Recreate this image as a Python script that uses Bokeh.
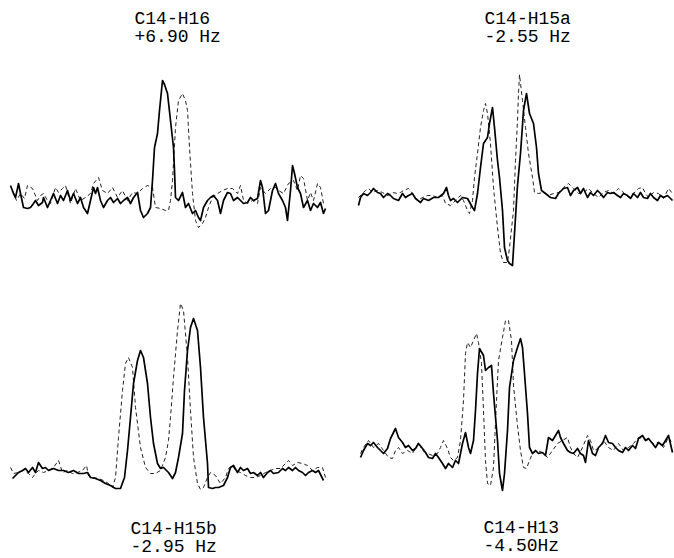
from bokeh.plotting import figure
from bokeh.layouts import column, row
from bokeh.models import Range1d
from bokeh.core.properties import value
from bokeh.embed import file_html
from bokeh.resources import INLINE

# ---- data: (frequency position, intensity) ----
tl_solid = [(2,12),(5,4),(7,0),(9,9),(10,14),(12,4),(15,-10),(19,-11),(22,-10),(25,-6),(27,-3),(30,-8),
            (34,-5),(35,0),(39,-10),(42,-3),(45,4),(49,-6),(52,2),(55,-3),(59,7),(62,-3),(65,4),(69,-6),
            (72,0),(75,-10),(79,-16),(82,-3),(85,10),(87,4),(89,10),(92,-3),(95,-10),(99,-3),(102,0),
            (105,-5),(109,-1),(112,-6),(115,-3),(119,0),(122,-6),(125,0),(129,5),(132,-13),(135,-20),
            (139,-16),(142,-10),(144,17),(146,50),(149,64),(151,87),(154,117),(156,113),(159,104),
            (162,77),(165,50),(166,27),(167,0),(170,-3),(174,5),(177,-10),(180,-6),(184,-16),(187,-13),
            (190,-20),(192,-23),(195,-10),(199,-3),(202,0),(205,2),(209,-3),(212,-16),(215,-3),(219,5),
            (222,4),(225,-3),(229,0),(232,-3),(235,-6),(239,-5),(242,0),(245,-3),(249,-1),(252,17),
            (254,10),(257,-16),(260,-13),(264,7),(267,14),(270,4),(274,-3),(277,-10),(279,-23),(282,7),
            (284,32),(286,24),(289,10),(292,4),(295,-10),(299,-3),(302,-13),(305,-6),(309,-10),
            (312,-5),(315,-16),(317,-11)]
tl_dashed = [(4,7),(8,-3),(12,4),(16,-1),(19,12),(24,9),(29,-3),(32,2),(35,4),(39,-3),(42,-6),(47,10),
             (50,5),(54,9),(57,12),(62,-6),(67,9),(72,-3),(77,0),(82,4),(85,14),(90,20),(94,7),(99,4),
             (104,10),(109,0),(114,7),(119,-3),(124,5),(129,4),(134,9),(139,12),(144,10),(147,-10),
             (152,-11),(157,-13),(160,-13),(162,-3),(164,17),(167,70),(170,97),(174,104),(177,97),
             (179,87),(181,50),(184,4),(187,-23),(190,-30),(194,-26),(197,-20),(200,-10),(204,0),
             (209,4),(214,7),(219,9),(224,9),(229,4),(232,12),(235,-3),(239,-6),(244,-3),(249,-6),
             (252,10),(257,4),(262,9),(267,10),(270,7),(275,4),(280,14),(285,17),(289,7),(292,22),
             (295,19),(299,-3),(302,5),(305,-3),(309,14),(312,10),(315,-6)]

tr_solid = [(21,-7),(23,1),(26,5),(30,3),(33,6),(36,10),(40,6),(43,5),(46,1),(50,5),(53,3),(56,0),
            (61,-2),(65,5),(68,1),(71,3),(75,5),(78,0),(83,-4),(86,0),(91,-2),(96,1),(101,1),(106,5),
            (109,11),(111,3),(113,-2),(116,0),(120,-4),(125,1),(130,0),(135,-9),(137,-12),(140,5),
            (143,31),(146,55),(150,61),(152,75),(155,91),(157,71),(160,38),(162,21),(165,-12),
            (167,-49),(170,-62),(172,-65),(175,-67),(177,-35),(180,13),(183,45),(186,88),(189,105),
            (192,85),(196,75),(199,51),(201,25),(204,8),(208,5),(213,1),(218,0),(221,5),(226,10),
            (230,11),(233,3),(236,8),(240,11),(243,5),(246,10),(250,1),(253,6),(256,3),(260,8),
            (263,5),(266,1),(270,6),(273,5),(276,6),(280,3),(283,1),(286,5),(290,3),(293,0),(296,5),
            (300,1),(303,6),(306,1),(310,0),(313,5),(316,1),(320,-2),(323,3),(326,1),(330,3),(335,-2)]
tr_dashed = [(21,1),(25,5),(28,8),(31,10),(35,6),(40,8),(45,6),(50,3),(55,6),(60,5),(63,6),(66,8),
             (71,10),(75,5),(80,-2),(85,1),(90,3),(95,3),(100,1),(105,3),(108,-5),(113,-7),(118,-2),
             (123,3),(126,-2),(130,-12),(132,-15),(135,-2),(137,21),(140,45),(143,71),(146,88),
             (148,95),(150,85),(153,55),(156,11),(160,-29),(163,-55),(166,-64),(170,-64),(172,-49),
             (176,-12),(178,38),(180,78),(181,105),(182,124),(185,98),(188,71),(191,45),(195,21),
             (197,6),(201,5),(206,6),(211,3),(216,5),(221,6),(226,11),(231,15),(236,10),(241,5),
             (246,6),(251,10),(256,5),(261,1),(266,6),(271,8),(276,5),(281,10),(286,6),(291,1),
             (296,5),(301,10),(305,11),(308,5),(311,1),(316,6),(321,5),(326,0),(331,10),(335,5)]

bl_solid = [(4,-8),(7,-5),(10,-2),(14,0),(17,2),(20,-2),(24,3),(27,-2),(30,8),(34,2),(37,3),(40,0),
            (45,2),(50,0),(55,0),(60,-2),(65,0),(70,-3),(75,-3),(79,-2),(82,-7),(87,-8),(92,-10),
            (97,-13),(102,-15),(107,-18),(112,-18),(116,-7),(119,20),(122,53),(125,87),(129,110),
            (132,120),(135,113),(139,87),(142,53),(145,27),(149,7),(152,2),(155,3),(160,-2),(164,-8),
            (167,-2),(170,13),(174,37),(176,80),(179,120),(182,143),(185,152),(189,140),(192,103),
            (195,53),(199,7),(200,-17),(204,-18),(207,-17),(210,-17),(215,-15),(219,-7),(222,3),
            (225,5),(229,-2),(232,3),(235,0),(239,2),(242,-3),(245,-2),(249,-5),(252,-2),(255,-7),
            (259,-2),(262,0),(265,-3),(270,-2),(274,2),(277,0),(280,3),(284,0),(287,3),(290,0),
            (294,-2),(297,-5),(300,-2),(304,0),(307,-2),(310,0),(315,-10)]
bl_dashed = [(2,3),(5,-3),(10,-2),(15,0),(20,-3),(24,-7),(27,-3),(30,0),(35,-2),(40,0),(45,3),(50,10),
             (54,-2),(59,0),(64,-3),(69,-2),(74,0),(78,5),(80,-5),(85,-7),(90,-8),(95,-10),(100,-13),
             (104,-17),(107,-7),(110,33),(114,80),(117,107),(120,113),(124,103),(127,63),(132,23),
             (137,3),(142,-3),(147,-3),(152,0),(157,13),(160,30),(162,53),(165,93),(169,140),
             (172,167),(175,160),(179,113),(182,60),(185,13),(189,-13),(192,-19),(195,-17),(199,-7),
             (202,-2),(207,-5),(212,-13),(217,-7),(220,2),(224,5),(227,0),(232,-2),(237,-5),(242,-7),
             (247,-7),(252,-5),(257,-2),(262,0),(267,2),(272,2),(277,7),(280,10),(284,5),(289,8),
             (294,7),(299,5),(304,0),(309,3),(314,3),(317,-7)]

br_solid = [(23,-7),(26,0),(30,7),(33,5),(36,8),(40,3),(43,0),(46,-3),(50,2),(53,12),(58,22),(61,13),
            (65,8),(68,3),(71,5),(75,0),(78,2),(81,7),(85,2),(88,-2),(91,-7),(95,-8),(98,-3),(101,-7),
            (105,-13),(108,-18),(111,-13),(115,-17),(118,-10),(121,-13),(125,7),(128,18),(131,3),
            (133,-3),(136,10),(138,40),(140,77),(142,102),(146,95),(148,80),(151,83),(154,85),
            (156,57),(160,10),(162,-23),(165,-40),(167,-23),(170,20),(172,63),(176,90),(180,103),
            (183,112),(185,103),(187,77),(190,37),(192,3),(195,-3),(198,0),(201,-3),(205,-2),(208,-5),
            (211,13),(215,10),(218,15),(221,20),(223,13),(226,7),(230,0),(233,-2),(236,-3),(240,2),
            (243,-3),(246,-5),(248,-12),(251,10),(255,-3),(258,-5),(261,3),(265,7),(268,15),(271,8),
            (275,7),(278,3),(281,0),(285,-2),(288,3),(291,0),(295,5),(298,2),(301,12),(305,15),
            (308,10),(311,12),(315,7),(318,3),(321,8),(325,5),(328,10),(331,15),(335,-2)]
br_dashed = [(23,-3),(26,3),(31,10),(36,3),(41,7),(46,0),(51,-7),(55,-8),(58,0),(61,3),(65,-3),(70,0),
             (75,-3),(78,2),(81,8),(85,0),(90,-3),(95,-5),(100,-3),(103,3),(106,10),(110,2),(113,-7),
             (116,-10),(120,-7),(123,10),(126,50),(128,97),(130,108),(133,103),(136,110),(139,117),
             (141,108),(144,87),(146,40),(148,-10),(150,-33),(153,-35),(156,-17),(159,50),(161,90),
             (165,113),(168,130),(171,130),(174,110),(176,65),(180,25),(183,0),(186,-17),(189,-18),
             (192,-10),(195,-3),(200,0),(205,-2),(210,-7),(215,0),(220,7),(225,10),(230,13),(233,3),
             (236,-3),(240,-7),(245,3),(250,15),(253,10),(256,0),(261,2),(266,10),(271,3),(276,0),
             (281,7),(286,0),(291,3),(296,7),(301,13),(306,12),(311,10),(316,7),(321,8),(326,3),
             (331,13),(335,7)]

labels_tl = ["C14-H16", "+6.90 Hz"]
labels_tr = ["C14-H15a", "-2.55 Hz"]
labels_bl = ["C14-H15b", "-2.95 Hz"]
labels_br = ["C14-H13", "-4.50Hz"]

W, H = 337, 279
FONT = value("Liberation Mono")


def panel(solid, dashed, xr, yr, labels, lab_x, lab_y):
    p = figure(width=W, height=H, x_range=Range1d(*xr), y_range=Range1d(*yr),
               output_backend="svg", toolbar_location=None,
               x_axis_location=None, y_axis_location=None, min_border=0)
    p.outline_line_color = None
    p.grid.visible = False
    p.background_fill_color = "white"
    p.border_fill_color = "white"
    p.line([a for a, b in dashed], [b for a, b in dashed], line_color="#222222",
           line_width=1, line_dash="4 3")
    p.line([a for a, b in solid], [b for a, b in solid], line_color="black",
           line_width=1.7, line_join="round")
    p.text(x=[lab_x, lab_x], y=lab_y, text=labels, text_font=FONT,
           text_font_size="18px", text_align="left", text_baseline="middle",
           text_color="black")
    return p


p1 = panel(tl_solid, tl_dashed, (-8, 329), (-82, 197), labels_tl, 126, [179, 161])
p2 = panel(tr_solid, tr_dashed, (0, 337), (-81, 198), labels_tr, 147, [180, 162])
p3 = panel(bl_solid, bl_dashed, (-8, 329), (-88, 191), labels_bl, 122, [-58, -76])
p4 = panel(br_solid, br_dashed, (0, 337), (-108, 171), labels_br, 146, [-77, -95])

layout = column(row(p1, p2), row(p3, p4))
open("out.html", "w").write(file_html(layout, INLINE))
